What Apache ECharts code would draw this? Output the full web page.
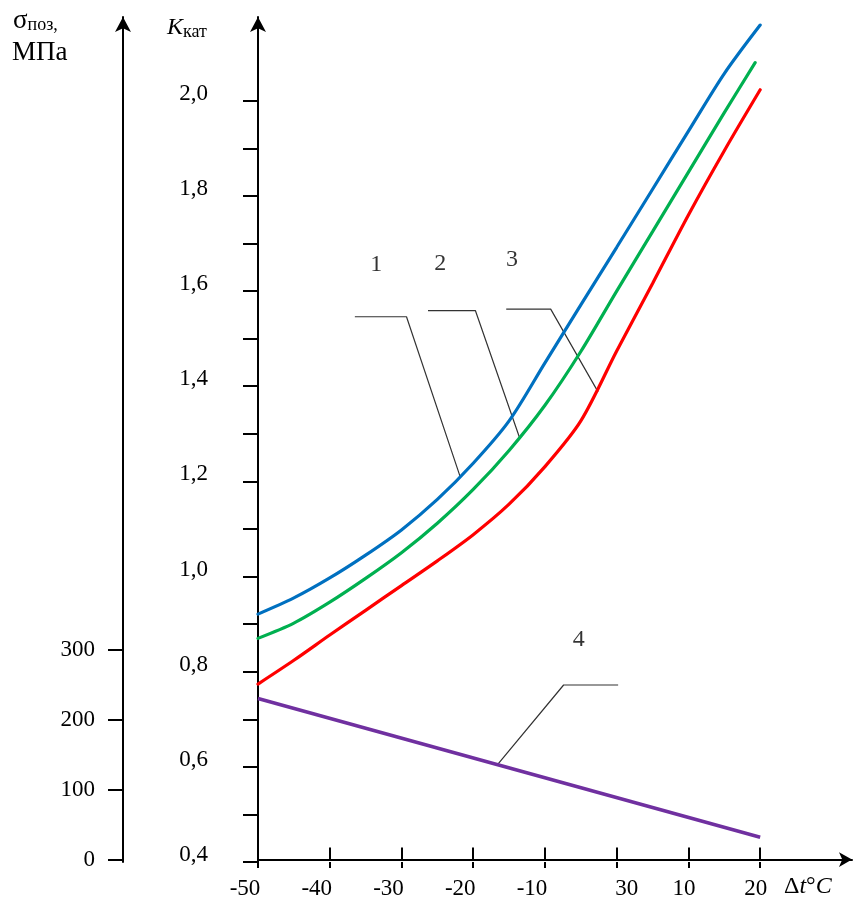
<!DOCTYPE html>
<html>
<head>
<meta charset="utf-8">
<script src="https://cdn.jsdelivr.net/npm/echarts@6/dist/echarts.min.js"></script>
<style>
html,body{margin:0;padding:0;background:#fff;}
#chart{width:859px;height:902px;}
</style>
</head>
<body>
<div id="chart"></div>
<script>
// ---- data ----
const tempX = [-50,-45,-40,-35,-30,-25,-20,-15,-10,-5,0,5,10,15,20];
const curve1 = [0.921,0.955,0.997,1.045,1.098,1.162,1.238,1.327,1.449,1.571,1.692,1.814,1.936,2.057,2.159];
const curve2X = [-50,-45,-40,-35,-30,-25,-20,-15,-10,-5,0,5,10,15,19.3];
const curve2 = [0.870,0.902,0.946,0.996,1.050,1.112,1.183,1.265,1.360,1.473,1.600,1.725,1.850,1.975,2.080];
const curve3 = [0.774,0.824,0.877,0.929,0.981,1.033,1.088,1.152,1.231,1.327,1.474,1.616,1.760,1.895,2.023];
const sigmaX = [-50,20];
const sigma4 = [230,32];

const xTickValues = [-50,-40,-30,-20,-10,0,10,20];
const xTickLabels = ['-50','-40','-30','-20','-10','30','10','20'];
const kTickValues = [0.4,0.5,0.6,0.7,0.8,0.9,1.0,1.1,1.2,1.3,1.4,1.5,1.6,1.7,1.8,1.9,2.0];
const kLabelValues = [0.4,0.6,0.8,1.0,1.2,1.4,1.6,1.8,2.0];
const sigmaTickValues = [0,100,200,300];

// callout leader lines (data coordinates, K axis)
const leader1 = [[-36.5,1.546],[-29.3,1.546],[-21.8,1.209]];
const leader2 = [[-26.3,1.559],[-19.7,1.559],[-13.5,1.290]];
const leader3 = [[-15.4,1.562],[-9.2,1.562],[-2.6,1.388]];
const leader4 = [[-16.7,0.603],[-7.4,0.772],[0.2,0.772]];
const calloutNames = ['1','2','3','4'];
const calloutPos = [[-33.5,1.655],[-24.6,1.658],[-14.6,1.665],[-5.3,0.868]];

const SERIF = '"Liberation Serif","DejaVu Serif",serif';
const pairs = (xs, ys) => xs.map((x,i)=>[x, ys[i]]);

const chart = echarts.init(document.getElementById('chart'), null, {renderer:'canvas'});

const leaderStyle = {color:'#333', width:1.2};
function leaderSeries(d){
  return {type:'line', xAxisIndex:0, yAxisIndex:0, data:d, symbol:'none', silent:true,
          lineStyle:leaderStyle, z:1, animation:false};
}
function curve(name, data, color){
  return {name:name, type:'line', xAxisIndex:0, yAxisIndex:0, data:data,
          smooth:0.3, symbol:'none',
          lineStyle:{color:color, width:3.2, cap:'round'}, z:3};
}

const option = {
  backgroundColor:'#ffffff',
  animation:false,
  title:[
    {text:'{a|σ}{b|поз,}', left:13, top:7, padding:0,
     textStyle:{fontWeight:'normal',
       rich:{a:{fontFamily:SERIF,fontSize:27,fontWeight:'normal',color:'#000'},
             b:{fontFamily:SERIF,fontSize:18,fontWeight:'normal',color:'#000',padding:[9,0,0,0]}}}},
    {text:'МПа', left:12, top:39, padding:0,
     textStyle:{fontFamily:SERIF,fontSize:27,fontWeight:'normal',color:'#000'}},
    {text:'{a|K}{b|кат}', left:167, top:15, padding:0,
     textStyle:{fontWeight:'normal',
       rich:{a:{fontFamily:SERIF,fontSize:24,fontStyle:'italic',fontWeight:'normal',color:'#000'},
             b:{fontFamily:SERIF,fontSize:18,fontWeight:'normal',color:'#000',padding:[8,0,0,0]}}}},
    {text:'{a|Δ}{i|t}{a|°}{i|C}', left:784, top:875, padding:0,
     textStyle:{fontWeight:'normal',
       rich:{a:{fontFamily:SERIF,fontSize:24,fontWeight:'normal',color:'#000'},
             i:{fontFamily:SERIF,fontSize:24,fontStyle:'italic',fontWeight:'normal',color:'#000'}}}}
  ],
  grid:{left:258, right:7, top:17, bottom:40, containLabel:false},
  xAxis:[
    {type:'value', min:-50, max:32.8, position:'bottom',
     axisLine:{show:true, lineStyle:{color:'#000', width:2}, symbol:['none','arrow'], symbolSize:[11,13]},
     axisTick:{show:true, inside:true, length:12, lineStyle:{color:'#000', width:2}, customValues:xTickValues},
     axisLabel:{show:true, margin:15, customValues:xTickValues,
       formatter:function(v){
         const i = xTickValues.indexOf(Math.round(v));
         const t = i>=0 ? xTickLabels[i] : '';
         if (v < 0) return '{n|'+t+'}';
         if (v === 0) return '{z|'+t+'}';
         return '{p|'+t+'}';
       },
       rich:{
         n:{fontFamily:SERIF,fontSize:23,color:'#000',padding:[0,26,0,0]},
         z:{fontFamily:SERIF,fontSize:23,color:'#000',padding:[0,0,0,20]},
         p:{fontFamily:SERIF,fontSize:23,color:'#000',padding:[0,9,0,0]}
       }},
     splitLine:{show:false}},
    {type:'value', min:-50, max:32.8, position:'bottom', offset:0,
     axisLine:{show:false},
     axisTick:{show:true, inside:false, length:6, lineStyle:{color:'#000', width:2}, customValues:xTickValues},
     axisLabel:{show:false},
     splitLine:{show:false}}
  ],
  yAxis:[
    {type:'value', min:0.4, max:2.176, position:'left', offset:0,
     axisLine:{show:true, onZero:false, lineStyle:{color:'#000', width:2}, symbol:['none','arrow'], symbolSize:[12,15]},
     axisTick:{show:true, inside:false, length:15, lineStyle:{color:'#000', width:2}, customValues:kTickValues},
     axisLabel:{show:true, margin:50, customValues:kLabelValues,
       fontFamily:SERIF, fontSize:23, color:'#000', verticalAlign:'bottom', lineHeight:14,
       formatter:function(v){ return v.toFixed(1).replace('.',','); }},
     splitLine:{show:false}},
    {type:'value', min:-3.4, max:1203, position:'left', offset:135,
     axisLine:{show:true, onZero:false, lineStyle:{color:'#000', width:2}, symbol:['none','arrow'], symbolSize:[12,15]},
     axisTick:{show:true, inside:false, length:15, lineStyle:{color:'#000', width:2}, customValues:sigmaTickValues},
     axisLabel:{show:true, margin:28, customValues:sigmaTickValues,
       fontFamily:SERIF, fontSize:23, color:'#000',
       formatter:function(v){ return String(Math.round(v)); }},
     splitLine:{show:false}}
  ],
  series:[
    curve('1', pairs(tempX, curve1), '#0070C0'),
    curve('2', pairs(curve2X, curve2), '#00B050'),
    curve('3', pairs(tempX, curve3), '#FF0000'),
    {name:'4', type:'line', xAxisIndex:0, yAxisIndex:1, data:pairs(sigmaX, sigma4),
     symbol:'none', lineStyle:{color:'#7030A0', width:3.5}, z:3},
    leaderSeries(leader1), leaderSeries(leader2), leaderSeries(leader3), leaderSeries(leader4),
    {type:'scatter', xAxisIndex:0, yAxisIndex:0, symbolSize:1, silent:true,
     itemStyle:{color:'rgba(0,0,0,0)'},
     data:calloutPos.map((p,i)=>({name:calloutNames[i], value:p})),
     label:{show:true, position:'inside', formatter:'{b}', fontFamily:SERIF, fontSize:24, color:'#000'}}
  ]
};
chart.setOption(option);
</script>
</body>
</html>
